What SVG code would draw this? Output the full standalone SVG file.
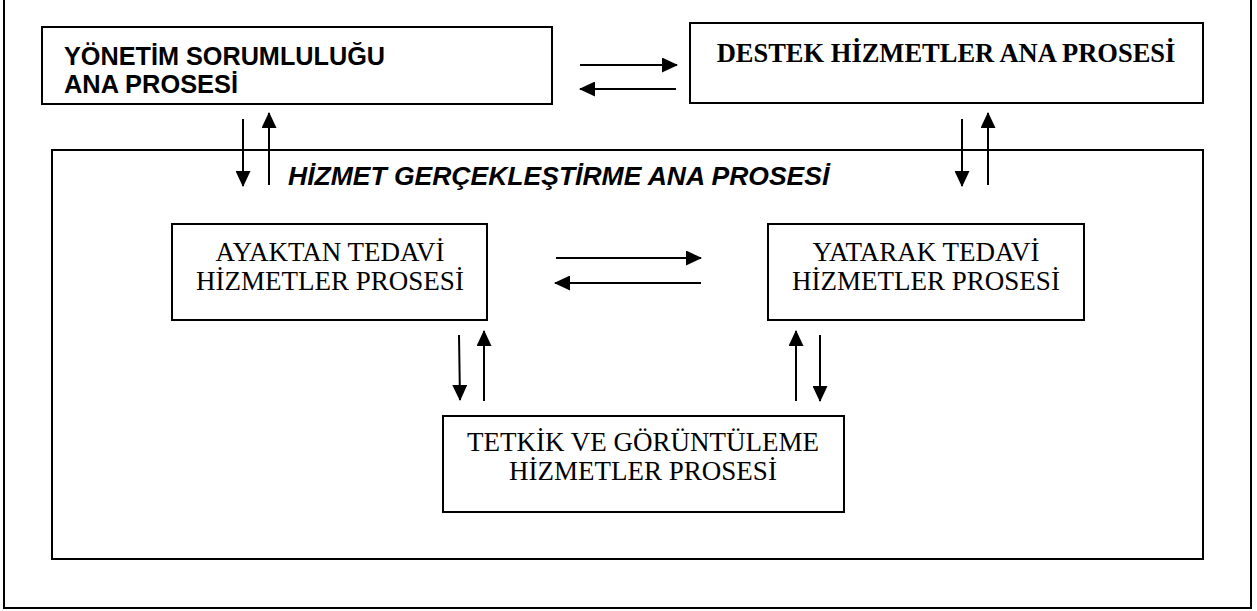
<svg xmlns="http://www.w3.org/2000/svg" width="1257" height="611" viewBox="0 0 1257 611">
  <style>
    .box { fill: #fff; stroke: #000; stroke-width: 2; }
    .frame { fill: none; stroke: #000; stroke-width: 2; }
    .arr { stroke: #000; stroke-width: 2; fill: none; marker-end: url(#head); }
    .sans-b { font-family: "Liberation Sans", Arial, sans-serif; font-weight: bold; font-size: 25px; fill: #000; }
    .sans-bi { font-family: "Liberation Sans", Arial, sans-serif; font-weight: bold; font-style: italic; font-size: 26.5px; fill: #000; }
    .serif-b { font-family: "Liberation Serif", "Times New Roman", serif; font-weight: bold; font-size: 26.5px; fill: #000; }
    .serif { font-family: "Liberation Serif", "Times New Roman", serif; font-size: 27px; fill: #000; text-anchor: middle; }
  </style>
  <defs>
    <marker id="head" viewBox="0 0 16 15" refX="15" refY="7.5" markerWidth="16" markerHeight="15" markerUnits="userSpaceOnUse" orient="auto">
      <path d="M0,0 L16,7.5 L0,15 Z" fill="#000"/>
    </marker>
  </defs>

  <!-- outer page frame (top edge lies above the visible area) -->
  <path class="frame" d="M4,-2 V608 H1251 V-2"/>

  <g id="yonetim">
    <rect class="box" x="42" y="27" width="510" height="77"/>
    <text class="sans-b" x="64" y="65" textLength="321" lengthAdjust="spacingAndGlyphs">YÖNETİM SORUMLULUĞU</text>
    <text class="sans-b" x="64" y="93" textLength="174" lengthAdjust="spacingAndGlyphs">ANA PROSESİ</text>
  </g>

  <g id="destek">
    <rect class="box" x="690" y="23" width="513" height="80"/>
    <text class="serif-b" x="946" y="62" text-anchor="middle">DESTEK HİZMETLER ANA PROSESİ</text>
  </g>

  <g id="hizmet-gerceklestirme">
    <rect class="frame" x="52" y="150" width="1151" height="409"/>
    <text class="sans-bi" x="288" y="185">HİZMET GERÇEKLEŞTİRME ANA PROSESİ</text>
  </g>

  <g id="ayaktan">
    <rect class="box" x="172" y="224" width="315" height="96"/>
    <text class="serif" x="330" y="261">AYAKTAN TEDAVİ</text>
    <text class="serif" x="330" y="290">HİZMETLER PROSESİ</text>
  </g>

  <g id="yatarak">
    <rect class="box" x="768" y="224" width="316" height="96"/>
    <text class="serif" x="926" y="261">YATARAK TEDAVİ</text>
    <text class="serif" x="926" y="290">HİZMETLER PROSESİ</text>
  </g>

  <g id="tetkik">
    <rect class="box" x="443" y="416" width="401" height="96"/>
    <text class="serif" x="643" y="451">TETKİK VE GÖRÜNTÜLEME</text>
    <text class="serif" x="643" y="480">HİZMETLER PROSESİ</text>
  </g>

  <g id="connectors">
    <!-- Yönetim <-> Destek -->
    <line class="arr" x1="580" y1="65" x2="677" y2="65"/>
    <line class="arr" x1="676" y1="89" x2="580" y2="89"/>
    <!-- Yönetim <-> Hizmet Gerçekleştirme -->
    <line class="arr" x1="243" y1="119" x2="243" y2="186"/>
    <line class="arr" x1="269" y1="185" x2="269" y2="113"/>
    <!-- Destek <-> Hizmet Gerçekleştirme -->
    <line class="arr" x1="962" y1="119" x2="962" y2="186"/>
    <line class="arr" x1="988" y1="185" x2="988" y2="113"/>
    <!-- Ayaktan <-> Yatarak -->
    <line class="arr" x1="556" y1="258" x2="701" y2="258"/>
    <line class="arr" x1="701" y1="283" x2="555" y2="283"/>
    <!-- Ayaktan <-> Tetkik -->
    <line class="arr" x1="459" y1="335" x2="460" y2="400"/>
    <line class="arr" x1="484" y1="401" x2="484" y2="331"/>
    <!-- Yatarak <-> Tetkik -->
    <line class="arr" x1="796" y1="401" x2="796" y2="331"/>
    <line class="arr" x1="820" y1="335" x2="820" y2="401"/>
  </g>
</svg>
